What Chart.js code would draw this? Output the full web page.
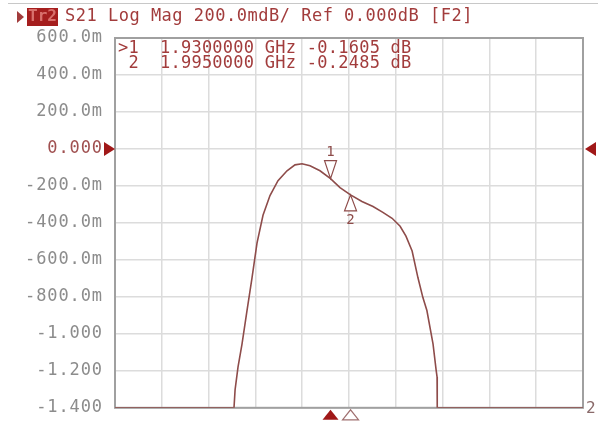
<!DOCTYPE html>
<html>
<head>
<meta charset="utf-8">
<script src="https://cdn.jsdelivr.net/npm/chart.js@4.4.1/dist/chart.umd.min.js"></script>
<style>
  body { margin: 0; background: #fff; }
  #wrap { width: 598px; height: 430px; }
</style>
</head>
<body>
<div id="wrap"><canvas id="vna" width="598" height="430"></canvas></div>
<script>
// trace data (GHz, dB)
var freqGHz = [1.230, 1.6165, 1.620, 1.6295, 1.6425, 1.6587, 1.675, 1.6912, 1.7107, 1.7334,
  1.7594, 1.7887, 1.8146, 1.8374, 1.8634, 1.8958, 1.930, 1.9608, 1.995, 2.032,
  2.068, 2.100, 2.130, 2.156, 2.175, 2.195, 2.214, 2.230, 2.243, 2.263,
  2.273, 2.276, 2.2766, 2.750];
var traceDb = [-1.400, -1.400, -1.303, -1.180, -1.056, -0.874, -0.697, -0.509, -0.359, -0.252,
  -0.172, -0.118, -0.086, -0.080, -0.091, -0.118, -0.1605, -0.209, -0.2485, -0.284,
  -0.311, -0.343, -0.375, -0.418, -0.472, -0.552, -0.697, -0.804, -0.874, -1.056,
  -1.196, -1.233, -1.400, -1.400];

var yTicks = [0.6, 0.4, 0.2, 0, -0.2, -0.4, -0.6, -0.8, -1.0, -1.2, -1.4];
var yTickLabels = ['600.0m', '400.0m', '200.0m', '0.000', '-200.0m', '-400.0m',
  '-600.0m', '-800.0m', '-1.000', '-1.200', '-1.400'];
var xGrid = [1.230, 1.382, 1.534, 1.686, 1.838, 1.990, 2.142, 2.294, 2.446, 2.598, 2.750];

var markerNames = ['1', '2'];
var markerFreq = [1.93, 1.995];
var markerDb = [-0.1605, -0.2485];
var markerRows = ['>1  1.9300000 GHz -0.1605 dB', ' 2  1.9950000 GHz -0.2485 dB'];

var headerText = 'S21 Log Mag 200.0mdB/ Ref 0.000dB [F2]';
var refLevel = 0;

var MONO = '"DejaVu Sans Mono", "Liberation Mono", monospace';
var RED = '#a23c3c';
var TRACE = '#8e4c4a';

function tri(ctx, pts, fill, stroke) {
  ctx.beginPath();
  ctx.moveTo(pts[0], pts[1]);
  ctx.lineTo(pts[2], pts[3]);
  ctx.lineTo(pts[4], pts[5]);
  ctx.closePath();
  if (fill) { ctx.fillStyle = fill; ctx.fill(); }
  if (stroke) { ctx.strokeStyle = stroke; ctx.lineWidth = 1.2; ctx.stroke(); }
}

var screenDeco = {
  id: 'screenDeco',
  beforeDraw: function(chart) {
    // the analyzer font is a bit wider than DejaVu Mono
    chart.ctx.letterSpacing = '0.9px';
  },
  beforeDatasetsDraw: function(chart) {
    var ctx = chart.ctx, a = chart.chartArea;
    ctx.save();
    ctx.strokeStyle = '#a0a0a0';
    ctx.lineWidth = 2;
    ctx.strokeRect(a.left, a.top, a.right - a.left, a.bottom - a.top);
    ctx.restore();
  },
  afterDraw: function(chart) {
    var ctx = chart.ctx, a = chart.chartArea;
    var xs = chart.scales.x, ys = chart.scales.y;
    ctx.save();
    ctx.letterSpacing = '0px';

    // top rule
    ctx.strokeStyle = '#c8c8c8';
    ctx.lineWidth = 1;
    ctx.beginPath(); ctx.moveTo(8, 3.5); ctx.lineTo(598, 3.5); ctx.stroke();

    // trace tag + header
    tri(ctx, [17, 11, 24, 17, 17, 23], RED);
    ctx.fillStyle = '#a51e1e';
    ctx.fillRect(27, 8, 31, 18);
    ctx.font = 'bold 16px ' + MONO;
    ctx.textBaseline = 'middle';
    ctx.fillStyle = '#d8706c';
    ctx.fillText('Tr2', 28, 17);
    ctx.font = '17px ' + MONO;
    ctx.fillStyle = RED;
    ctx.letterSpacing = '0.5px';
    ctx.fillText(headerText, 65, 17);

    // marker readout
    ctx.letterSpacing = '0.25px';
    markerRows.forEach(function(r, i) {
      ctx.fillText(r, 118, 49 + i * 15);
    });
    ctx.letterSpacing = '0px';

    // reference level arrows
    var yr = ys.getPixelForValue(refLevel);
    tri(ctx, [a.left - 11, yr - 7, a.left, yr, a.left - 11, yr + 7], '#a01818');
    tri(ctx, [a.right + 13, yr - 7, a.right + 2, yr, a.right + 13, yr + 7], '#a01818');

    // markers on the trace and along the bottom
    ctx.font = '14px ' + MONO;
    ctx.textAlign = 'center';
    markerFreq.forEach(function(f, i) {
      var px = xs.getPixelForValue(f), py = ys.getPixelForValue(markerDb[i]);
      if (i === 0) {
        tri(ctx, [px - 6, py - 18, px + 6, py - 18, px, py], '#fff', TRACE);
        ctx.fillStyle = TRACE;
        ctx.fillText(markerNames[i], px, py - 26);
        tri(ctx, [px - 8, a.bottom + 12, px, a.bottom + 2, px + 8, a.bottom + 12], '#a01818');
      } else {
        tri(ctx, [px - 6, py + 16, px + 6, py + 16, px, py], '#fff', TRACE);
        ctx.fillStyle = TRACE;
        ctx.fillText(markerNames[i], px, py + 25);
        tri(ctx, [px - 8, a.bottom + 12, px, a.bottom + 2, px + 8, a.bottom + 12], '#fff', '#a07070');
      }
    });

    // channel number at lower right
    ctx.textAlign = 'left';
    ctx.font = '16px ' + MONO;
    ctx.fillStyle = '#8a6a6a';
    ctx.fillText('2', a.right + 3, a.bottom + 1);
    ctx.restore();
  }
};

var chart = new Chart(document.getElementById('vna'), {
  type: 'line',
  data: {
    datasets: [{
      data: freqGHz.map(function(f, i) { return { x: f, y: traceDb[i] }; }),
      borderColor: TRACE,
      borderWidth: 1.6,
      pointRadius: 0,
      tension: 0,
      fill: false
    }]
  },
  options: {
    responsive: false,
    animation: false,
    layout: { padding: { left: 0, top: 38, right: 15, bottom: 19 } },
    plugins: { legend: { display: false }, tooltip: { enabled: false } },
    scales: {
      x: {
        type: 'linear',
        min: xGrid[0],
        max: xGrid[xGrid.length - 1],
        afterBuildTicks: function(s) { s.ticks = xGrid.map(function(v) { return { value: v }; }); },
        afterFit: function(s) { s.height = 0; },
        ticks: { display: false },
        grid: { color: '#dcdcdc', lineWidth: 1.5, drawTicks: false },
        border: { display: false }
      },
      y: {
        min: yTicks[yTicks.length - 1],
        max: yTicks[0],
        afterBuildTicks: function(s) { s.ticks = yTicks.map(function(v) { return { value: v }; }); },
        afterFit: function(s) { s.width = 115; },
        ticks: {
          padding: 12,
          font: { family: MONO, size: 17 },
          color: function(c) { return c.tick && c.tick.value === refLevel ? '#a05050' : '#8c8c8c'; },
          callback: function(v) {
            var i = yTicks.findIndex(function(t) { return Math.abs(t - v) < 1e-9; });
            return i >= 0 ? yTickLabels[i] : '';
          }
        },
        grid: { color: '#dcdcdc', lineWidth: 1.5, drawTicks: false },
        border: { display: false }
      }
    }
  },
  plugins: [screenDeco]
});
</script>
</body>
</html>
